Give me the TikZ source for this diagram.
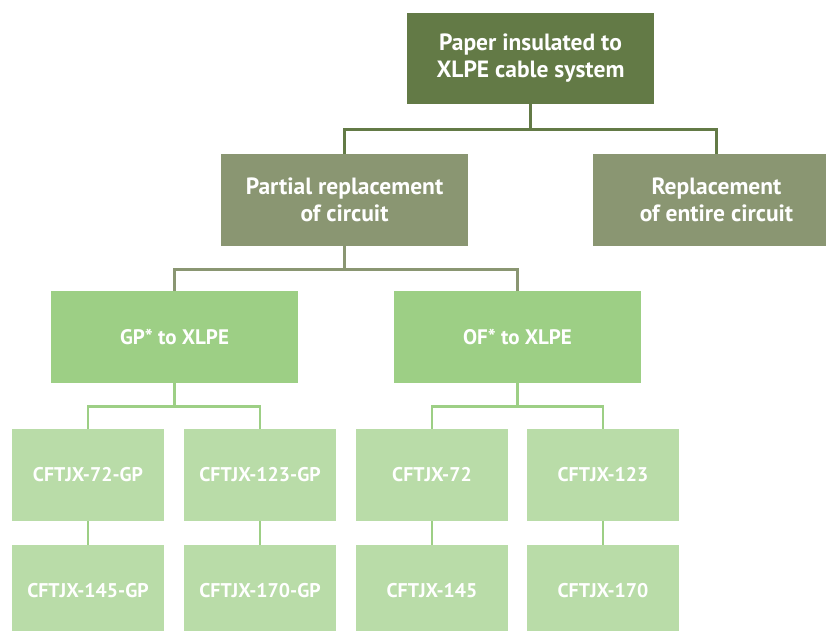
\documentclass[tikz,border=0pt]{standalone}
\usepackage{fontspec}
\setmainfont{PT Sans}
\definecolor{cdark}{HTML}{637A46}
\definecolor{cmid}{HTML}{8A9672}
\definecolor{clight}{HTML}{9DCF85}
\definecolor{cpale}{HTML}{B9DCA8}
\tikzset{
  box/.style={draw=none, rectangle, inner sep=0pt, text=white, align=center,
    font=\fontsize{23.5}{27}\selectfont\bfseries},
  topbox/.style={box, fill=cdark, minimum width=247pt, minimum height=91pt},
  midbox/.style={box, fill=cmid, minimum width=247pt, minimum height=92pt},
  lvlbox/.style={box, fill=clight, minimum width=247pt, minimum height=92pt,
    font=\fontsize{21}{25}\selectfont\bfseries},
  leafbox/.style={box, fill=cpale, minimum width=152pt, minimum height=92pt,
    font=\fontsize{19.8}{24}\selectfont\bfseries},
  conn/.style={line width=2.6pt}
}
\begin{document}
\begin{tikzpicture}[x=1pt,y=-1pt]
\useasboundingbox (0,0) rectangle (826,630);
\clip (0,0) rectangle (826,630);
\node[topbox] (top) at (530.5,58.5) {Paper insulated to\\XLPE cable system};
\node[midbox] (part) at (344.5,200) {Partial replacement\\of circuit};
\node[midbox] (repl) at (716.5,200) {Replacement\\of entire circuit};
\node[lvlbox] (gp) at (174.5,337) {GP* to XLPE};
\node[lvlbox] (of) at (517.5,337) {OF* to XLPE};
\node[leafbox] (a1) at (88,475) {CFTJX-72-GP};
\node[leafbox] (a2) at (260,475) {CFTJX-123-GP};
\node[leafbox] (a3) at (432,475) {CFTJX-72};
\node[leafbox] (a4) at (603,475) {CFTJX-123};
\node[leafbox] (b1) at (88,591) {CFTJX-145-GP};
\node[leafbox] (b2) at (260,591) {CFTJX-170-GP};
\node[leafbox] (b3) at (432,591) {CFTJX-145};
\node[leafbox] (b4) at (603,591) {CFTJX-170};
\draw[conn, cdark] (top.south) -- ++(0,25) -| (part.north);
\draw[conn, cdark] (top.south) -- ++(0,25) -| (repl.north);
\draw[conn, cmid] (part.south) -- ++(0,23) -| (gp.north);
\draw[conn, cmid] (part.south) -- ++(0,23) -| (of.north);
\draw[conn, clight] (gp.south) -- ++(0,23) -| (a1.north);
\draw[conn, clight] (gp.south) -- ++(0,23) -| (a2.north);
\draw[conn, clight] (of.south) -- ++(0,23) -| (a3.north);
\draw[conn, clight] (of.south) -- ++(0,23) -| (a4.north);
\draw[conn, clight] (a1) -- (b1);
\draw[conn, clight] (a2) -- (b2);
\draw[conn, clight] (a3) -- (b3);
\draw[conn, clight] (a4) -- (b4);
\end{tikzpicture}
\end{document}
